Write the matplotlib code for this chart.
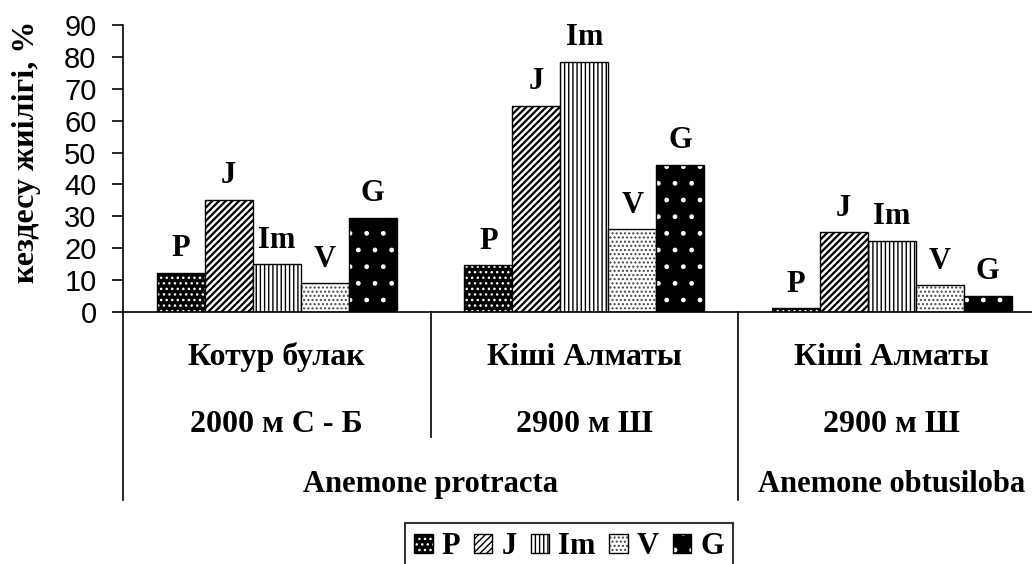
import matplotlib
matplotlib.use("Agg")
import matplotlib.pyplot as plt
import numpy as np

# Вікові стани та місця зростання
stages = ["P", "J", "Im", "V", "G"]
sites = ["Котур булак", "Кіші Алматы", "Кіші Алматы"]
altitudes = ["2000 м С - Б", "2900 м Ш", "2900 м Ш"]
species = ["Anemone protracta", "Anemone obtusiloba"]
species_groups = [(0, 1), (2, 2)]   # перший і останній індекс місця для кожного виду

# кездесу жиілігі, % (по місцях)
freq_p = [12.3, 14.6, 1.2]
freq_j = [35.1, 64.6, 25.0]
freq_im = [15.0, 78.5, 22.3]
freq_v = [9.0, 25.9, 8.4]
freq_g = [29.6, 46.1, 5.0]

SERIF = "Liberation Serif"
SANS = "Liberation Sans"

# заливка, колір штрихування, штрихування
styles = [
    ("black", "white", "..."),
    ("white", "black", "/////"),
    ("white", "black", "||||"),
    ("white", "#444444", "...."),
    ("black", "white", "."),
]

fig = plt.figure(figsize=(10.32, 5.64), dpi=100)
W, H = 1032, 564
x0, x1, ytop, ybot = 123, 1045.5, 25, 312
ax = fig.add_axes([x0 / W, 1 - ybot / H, (x1 - x0) / W, (ybot - ytop) / H])

x = np.arange(len(sites))
w = 0.156
series = [freq_p, freq_j, freq_im, freq_v, freq_g]
handles = []
for i, (name, vals, (face, hcol, hatch)) in enumerate(zip(stages, series, styles)):
    pos = x + (i - 2) * w
    with plt.rc_context({"hatch.linewidth": 1.6 if i == 1 else 1.0}):
        fill = ax.bar(pos, vals, w, color=face, edgecolor=hcol, hatch=hatch, linewidth=0)
    edge = ax.bar(pos, vals, w, fill=False, edgecolor="black", linewidth=1.0)
    handles.append((fill.patches[0], edge.patches[0]))
    for xp, v in zip(pos, vals):
        ax.annotate(name, (xp, v), xytext=(0, 12), textcoords="offset points",
                    ha="center", va="baseline", fontsize=22, fontweight="bold",
                    family=SERIF)

ax.set_xlim(-0.5, 2.5)
ax.set_ylim(0, 90)
ax.set_yticks(np.arange(0, 91, 10))
ax.set_xticks([])
for lab in ax.get_yticklabels():
    lab.set_family(SANS)
ax.tick_params(axis="y", direction="out", length=8, width=1.2, pad=11, labelsize=21)
ax.spines["top"].set_visible(False)
ax.spines["right"].set_visible(False)
ax.spines["left"].set_linewidth(1.2)
ax.spines["bottom"].set_linewidth(1.2)

# багаторівнева вісь категорій
tr = ax.get_xaxis_transform()
for xd, ylow in [(-0.5, -0.655), (0.5, -0.436), (1.5, -0.655)]:
    ax.plot([xd, xd], [0, ylow], color="black", lw=1.2, transform=tr, clip_on=False)
for xi, site, alt in zip(x, sites, altitudes):
    ax.text(xi, -0.185, site, transform=tr, ha="center", va="baseline",
            fontsize=23, fontweight="bold", family=SERIF)
    ax.text(xi, -0.418, alt, transform=tr, ha="center", va="baseline",
            fontsize=23, fontweight="bold", family=SERIF)
for sp, (a, b) in zip(species, species_groups):
    ax.text((a + b) / 2, -0.627, sp, transform=tr, ha="center", va="baseline",
            fontsize=22, fontweight="bold", family=SERIF)

fig.text(27 / W, 1 - 152 / H, "кездесу жиілігі, %", rotation=90, ha="center",
         va="center", fontsize=23, fontweight="bold", family=SERIF)

leg = fig.legend(handles, stages, loc="upper center", ncol=5,
                 bbox_to_anchor=(569 / W, 1 - 523 / H), borderaxespad=0,
                 frameon=True, fancybox=False, handlelength=0.6, handleheight=0.6,
                 handletextpad=0.3, columnspacing=0.45, borderpad=0.3,
                 prop={"family": SERIF, "weight": "bold", "size": 22})
leg.get_frame().set_edgecolor("black")
leg.get_frame().set_linewidth(1.5)

fig.savefig("out.png", dpi=100)
